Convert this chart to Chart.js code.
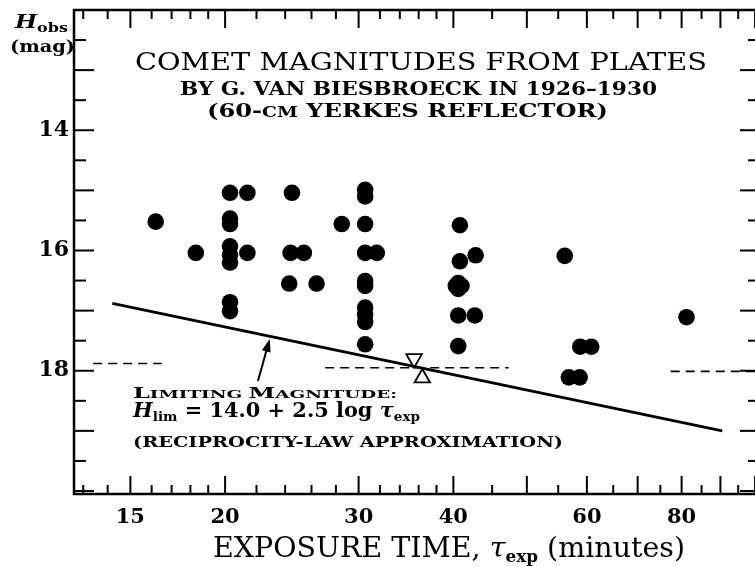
<!DOCTYPE html>
<html>
<head>
<meta charset="utf-8">
<script src="https://cdn.jsdelivr.net/npm/chart.js@4.4.1/dist/chart.umd.min.js"></script>
<style>
  html, body { margin: 0; padding: 0; background: #fff; overflow: hidden; }
  #wrap { width: 760px; height: 567px; }
</style>
</head>
<body>
<div id="wrap"><canvas id="comet-chart" width="760" height="567"></canvas></div>
<script>
// plates: exposure time (minutes) and observed magnitude
const expTimes = [16.2, 18.3, 20.3, 21.4, 20.3, 20.3, 20.3, 20.3, 20.3, 21.4, 20.3, 20.3,
    24.5, 24.4, 25.4, 24.3, 26.4, 28.5,
    30.6, 30.6, 30.6, 30.6, 31.7, 30.6, 30.6, 30.6, 30.6, 30.6, 30.6,
    40.8, 40.8, 42.8, 40.3, 41.0, 40.6, 40.6, 40.6, 42.7, 40.6,
    56.1, 58.8, 60.8, 56.8, 58.7, 81.2];
const magObs = [15.52, 16.04, 15.04, 15.04, 15.47, 15.56, 15.93, 16.07, 16.20, 16.04, 16.86, 17.01,
    15.04, 16.04, 16.04, 16.55, 16.55, 15.56,
    14.99, 15.10, 15.56, 16.04, 16.04, 16.51, 16.59, 16.95, 17.07, 17.19, 17.56,
    15.58, 16.18, 16.08, 16.59, 16.59, 16.54, 16.64, 17.08, 17.08, 17.59,
    16.09, 17.60, 17.60, 18.11, 18.11, 17.11];

// limiting magnitude line H = 14.0 + 2.5 log t (end points)
const limitTimes = [14.2, 90.5];
const limitMags = [16.88, 19.0];

// dashed reference segments
const dashLeftTimes = [13.4, 16.5];
const dashLeftMags = [17.88, 17.88];
const dashMidTimes = [27.1, 47.3];
const dashMidMags = [17.95, 17.95];
const dashRightTimes = [77.4, 101.5];
const dashRightMags = [18.01, 18.01];

// open triangles
const triDownTimes = [35.5];
const triDownMags = [17.80];
const triUpTimes = [36.4];
const triUpMags = [18.12];

// arrow pointing at the limit line
const arrowTimes = [22.1, 22.9];
const arrowMags = [18.17, 17.47];

// ticks
const xMajorTicks = [15, 20, 30, 40, 50, 60, 70, 80, 90, 100];
const xMinorTicks = [13, 14, 16, 17, 18, 19, 22, 24, 26, 28, 32, 34, 36, 38, 45, 55, 65, 75, 85, 95];
const xLabels = [15, 20, 30, 40, 60, 80];
const yMajorTicks = [13, 14, 15, 16, 17, 18, 19, 20];
const yMinorTicks = [12.5, 13.5, 14.5, 15.5, 16.5, 17.5, 18.5, 19.5];
const yLabels = [14, 16, 18];

const SERIF = "'DejaVu Serif', serif";
const pts = (xs, ys) => xs.map((x, i) => ({ x: x, y: ys[i] }));

// draws a row of text runs starting at x, squeezed to the given width
function drawRuns(ctx, runs, x, baseline, width) {
    let natural = 0;
    runs.forEach(r => { ctx.font = r.font; natural += ctx.measureText(r.text).width; });
    ctx.save();
    ctx.translate(x, baseline);
    ctx.scale(width / natural, 1);
    ctx.fillStyle = '#000';
    ctx.textBaseline = 'alphabetic';
    ctx.textAlign = 'left';
    let cx = 0;
    runs.forEach(r => {
        ctx.font = r.font;
        ctx.fillText(r.text, cx, r.dy || 0);
        cx += ctx.measureText(r.text).width;
    });
    ctx.restore();
}

const framePlugin = {
    id: 'frame',
    afterDatasetsDraw(chart) {
        const { ctx, chartArea: a, scales: { x, y } } = chart;
        ctx.save();
        ctx.strokeStyle = '#000';
        ctx.lineWidth = 2.5;
        ctx.strokeRect(a.left, a.top, a.right - a.left, a.bottom - a.top);

        ctx.lineWidth = 2;
        const tick = (x0, y0, x1, y1) => { ctx.beginPath(); ctx.moveTo(x0, y0); ctx.lineTo(x1, y1); ctx.stroke(); };
        xMajorTicks.concat(xMinorTicks).forEach(v => {
            const px = x.getPixelForValue(v);
            const len = xMajorTicks.includes(v) ? 18 : 9;
            tick(px, a.bottom, px, a.bottom - len);
            tick(px, a.top, px, a.top + len);
        });
        yMajorTicks.concat(yMinorTicks).forEach(v => {
            const py = y.getPixelForValue(v);
            const len = yMajorTicks.includes(v) ? 20 : 12;
            tick(a.left, py, a.left + len, py);
            tick(a.right, py, a.right - len, py);
        });

        // arrow
        const x0 = x.getPixelForValue(arrowTimes[0]), y0 = y.getPixelForValue(arrowMags[0]);
        const x1 = x.getPixelForValue(arrowTimes[1]), y1 = y.getPixelForValue(arrowMags[1]);
        const ang = Math.atan2(y1 - y0, x1 - x0);
        ctx.lineWidth = 2;
        tick(x0, y0, x1 - 8 * Math.cos(ang), y1 - 8 * Math.sin(ang));
        ctx.fillStyle = '#000';
        ctx.beginPath();
        ctx.moveTo(x1, y1);
        ctx.lineTo(x1 - 13 * Math.cos(ang) + 4.5 * Math.sin(ang), y1 - 13 * Math.sin(ang) - 4.5 * Math.cos(ang));
        ctx.lineTo(x1 - 13 * Math.cos(ang) - 4.5 * Math.sin(ang), y1 - 13 * Math.sin(ang) + 4.5 * Math.cos(ang));
        ctx.closePath();
        ctx.fill();
        ctx.restore();
    },
    afterDraw(chart) {
        const ctx = chart.ctx;
        // title block
        drawRuns(ctx, [{ text: 'COMET MAGNITUDES FROM PLATES', font: `24px ${SERIF}` }], 135, 70, 572);
        drawRuns(ctx, [{ text: 'BY G. VAN BIESBROECK IN 1926–1930', font: `bold 18px ${SERIF}` }], 180, 95, 477);
        drawRuns(ctx, [
            { text: '(60-', font: `bold 18px ${SERIF}` },
            { text: 'CM', font: `bold 14px ${SERIF}` },
            { text: ' YERKES REFLECTOR)', font: `bold 18px ${SERIF}` }
        ], 207, 117, 401);

        // y axis title
        drawRuns(ctx, [
            { text: 'H', font: `italic bold 19px ${SERIF}` },
            { text: 'obs', font: `bold 13px ${SERIF}`, dy: 4 }
        ], 15, 28, 53);
        drawRuns(ctx, [{ text: '(mag)', font: `bold 17px ${SERIF}` }], 10, 52, 65);

        // x axis title
        drawRuns(ctx, [
            { text: 'EXPOSURE TIME, ', font: `27px ${SERIF}` },
            { text: 'τ', font: `italic 27px ${SERIF}` },
            { text: 'exp', font: `bold 16px ${SERIF}`, dy: 5 },
            { text: ' (minutes)', font: `27px ${SERIF}` }
        ], 213, 557, 472);

        // limit annotation
        drawRuns(ctx, [
            { text: 'L', font: `bold 15px ${SERIF}` },
            { text: 'IMITING ', font: `bold 11.5px ${SERIF}` },
            { text: 'M', font: `bold 15px ${SERIF}` },
            { text: 'AGNITUDE:', font: `bold 11.5px ${SERIF}` }
        ], 133, 398, 264);
        drawRuns(ctx, [
            { text: 'H', font: `italic bold 20px ${SERIF}` },
            { text: 'lim', font: `bold 13px ${SERIF}`, dy: 4 },
            { text: ' = 14.0 + 2.5 log ', font: `bold 20px ${SERIF}` },
            { text: 'τ', font: `italic bold 20px ${SERIF}` },
            { text: 'exp', font: `bold 13px ${SERIF}`, dy: 4 }
        ], 133, 417, 287);
        drawRuns(ctx, [{ text: '(RECIPROCITY-LAW APPROXIMATION)', font: `bold 15px ${SERIF}` }], 133, 447, 430);
    }
};

new Chart(document.getElementById('comet-chart'), {
    type: 'scatter',
    data: {
        datasets: [
            {
                label: 'Plates',
                data: pts(expTimes, magObs),
                backgroundColor: '#000',
                borderWidth: 0,
                pointRadius: 8.3,
                pointHoverRadius: 8.3
            },
            {
                label: 'Limiting magnitude',
                data: pts(limitTimes, limitMags),
                showLine: true,
                borderColor: '#000',
                borderWidth: 3,
                pointRadius: 0
            },
            {
                data: pts(dashLeftTimes, dashLeftMags),
                showLine: true, borderColor: '#000', borderWidth: 1.6, borderDash: [9, 6], pointRadius: 0
            },
            {
                data: pts(dashMidTimes, dashMidMags),
                showLine: true, borderColor: '#000', borderWidth: 1.6, borderDash: [9, 6], pointRadius: 0
            },
            {
                data: pts(dashRightTimes, dashRightMags),
                showLine: true, borderColor: '#000', borderWidth: 1.6, borderDash: [9, 6], pointRadius: 0
            },
            {
                data: pts(triDownTimes, triDownMags),
                pointStyle: 'triangle', pointRotation: 180, pointRadius: 9,
                backgroundColor: '#fff', borderColor: '#000', borderWidth: 1.8
            },
            {
                data: pts(triUpTimes, triUpMags),
                pointStyle: 'triangle', pointRotation: 0, pointRadius: 9,
                backgroundColor: '#fff', borderColor: '#000', borderWidth: 1.8
            }
        ]
    },
    options: {
        responsive: false,
        animation: false,
        events: [],
        layout: { autoPadding: false, padding: { top: 10, left: 0, right: 0, bottom: 0 } },
        plugins: { legend: { display: false }, tooltip: { enabled: false } },
        scales: {
            x: {
                type: 'logarithmic',
                min: 12.64,
                max: 101.5,
                afterFit(s) { s.height = 73; },
                afterBuildTicks(s) {
                    s.ticks = xMajorTicks.concat(xMinorTicks).sort((a, b) => a - b).map(v => ({ value: v }));
                },
                grid: { display: false, drawTicks: true, tickLength: 11 },
                border: { display: false },
                ticks: {
                    autoSkip: false, maxRotation: 0, padding: 0, color: '#000',
                    font: { family: SERIF, size: 21, weight: 'bold' },
                    callback: v => xLabels.includes(v) ? String(v) : ''
                }
            },
            y: {
                min: 12,
                max: 20.05,
                reverse: true,
                afterFit(s) { s.width = 74; },
                afterBuildTicks(s) {
                    s.ticks = yMajorTicks.concat(yMinorTicks).sort((a, b) => a - b).map(v => ({ value: v }));
                },
                grid: { display: false, drawTicks: false },
                border: { display: false },
                ticks: {
                    autoSkip: false, padding: 5, color: '#000',
                    font: { family: SERIF, size: 22, weight: 'bold', lineHeight: 0.4 },
                    callback: v => yLabels.includes(v) ? String(v) : ''
                }
            }
        }
    },
    plugins: [framePlugin]
});
</script>
</body>
</html>
